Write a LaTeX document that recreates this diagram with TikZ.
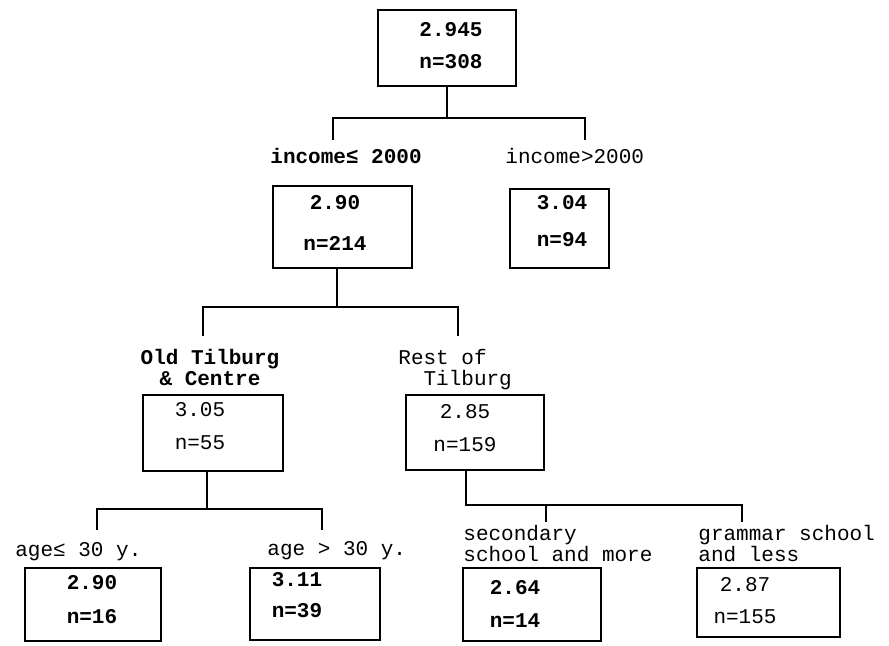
\documentclass[tikz,border=0pt]{standalone}
\usepackage{fontspec}
\setmonofont{Liberation Mono}
\usetikzlibrary{positioning}
\tikzset{
  statbox/.style={draw, line width=0.9pt, inner sep=0pt},
  stat/.style={align=center, inner sep=0pt, font=\ttfamily\fontsize{10.5}{12}\selectfont},
  statb/.style={stat, font=\ttfamily\bfseries\fontsize{10.5}{12}\selectfont},
  cond/.style={inner sep=0pt, font=\ttfamily\fontsize{10.5}{10.5}\selectfont},
  condb/.style={cond, font=\ttfamily\bfseries\fontsize{10.5}{10.5}\selectfont},
  split/.style={line width=1pt}
}

\begin{document}
\begin{tikzpicture}[x=0.5pt, y=-0.5pt]
  \useasboundingbox (0,0) rectangle (889,645);

  % whole sample
  \node[statbox, minimum width=69pt, minimum height=38pt] (root) at (447,48) {};
  \node[statb] (root-t) at (451,46) {2.945\\[4pt]n=308};
  \coordinate (s1l) at (333,140);
  \coordinate (s1r) at (585,140);
  \draw[split, line width=1.4pt] (root.south) -- ++(0,32);
  \draw[split, line width=1.4pt] (s1l) -- ++(0,-22) -| (s1r);

  % income split
  \node[condb, anchor=base west] (lab-inclo) at (270,163) {income≤ 2000};
  \node[cond, anchor=base west] (lab-inchi) at (505,163) {income>2000};
  \node[statbox, minimum width=69.5pt, minimum height=41pt] (inclo) at (342.5,227) {};
  \node[statb] (inclo-t) at (335,222.5) {2.90\\[8.5pt]n=214};
  \node[statbox, minimum width=49.5pt, minimum height=39.5pt] (inchi) at (559.5,228.5) {};
  \node[statb] (inchi-t) at (562,221.5) {3.04\\[6.5pt]n=94};
  \coordinate (s2l) at (203,336);
  \coordinate (s2r) at (458,336);
  \draw[split] ([xshift=-3pt]inclo.south) -- ++(0,39);
  \draw[split] (s2l) -- ++(0,-29) -| (s2r);

  % district split
  \node[condb, align=center, anchor=north] (lab-old) at (210,349) {Old Tilburg\\\& Centre};
  \node[cond, align=left, anchor=north west] (lab-rest) at (398,349) {Rest of\\\phantom{Re}Tilburg};
  \node[statbox, minimum width=70pt, minimum height=38pt] (old) at (213,433) {};
  \node[stat] (old-t) at (200,426.5) {3.05\\[4.5pt]n=55};
  \node[statbox, minimum width=69pt, minimum height=37.5pt] (rest) at (475,432.5) {};
  \node[stat] (rest-t) at (465,428.5) {2.85\\[4.5pt]n=159};

  % age split
  \coordinate (s3l) at (97,530);
  \coordinate (s3r) at (322,530);
  \draw[split] ([xshift=-3pt]old.south) -- ++(0,38);
  \draw[split] (s3l) -- ++(0,-21) -| (s3r);
  \node[cond, anchor=base west] (lab-young) at (15,556) {age≤ 30 y.};
  \node[cond, anchor=base west] (lab-older) at (267,555) {age > 30 y.};
  \node[statbox, minimum width=68pt, minimum height=36.5pt] (young) at (93,604.5) {};
  \node[statb] (young-t) at (92,600) {2.90\\[5pt]n=16};
  \node[statbox, minimum width=65pt, minimum height=36pt] (older) at (315,604) {};
  \node[statb] (older-t) at (297,595.5) {3.11\\[3.5pt]n=39};

  % schooling split
  \coordinate (s4m) at (546,522);
  \coordinate (s4r) at (742,522);
  \draw[split] ([xshift=-4.5pt]rest.south) -- ++(0,34) -| (s4r);
  \draw[split] (s4m) -- ++(0,-18);
  \node[cond, align=left, anchor=north west] (lab-sec) at (463,525) {secondary\\school and more};
  \node[cond, align=left, anchor=north west] (lab-gram) at (698,525) {grammar school\\and less};
  \node[statbox, minimum width=69pt, minimum height=36.5pt] (sec) at (532,604.5) {};
  \node[statb] (sec-t) at (515,603.5) {2.64\\[4.5pt]n=14};
  \node[statbox, minimum width=71.5pt, minimum height=34.5pt] (gram) at (768.5,602.5) {};
  \node[stat] (gram-t) at (745,601) {2.87\\[4pt]n=155};
\end{tikzpicture}
\end{document}
